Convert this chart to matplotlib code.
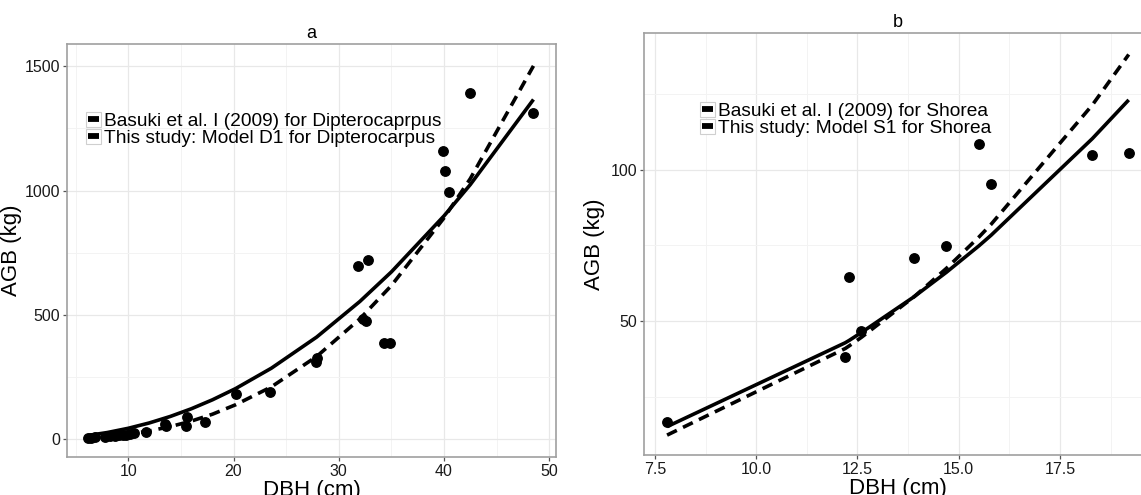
import matplotlib
matplotlib.use("Agg")
import matplotlib.pyplot as plt
from matplotlib.ticker import MultipleLocator, FormatStrFormatter
from matplotlib.legend_handler import HandlerLine2D
from matplotlib.patches import Rectangle
from matplotlib.lines import Line2D

plt.rcParams['font.family'] = ['Liberation Sans', 'DejaVu Sans']

# ---------------- Panel a: Dipterocarpus ----------------
dbh_a = [6.2, 6.5, 6.8, 7.8, 8.3, 8.7, 9.1, 9.5, 9.8, 10.2, 10.5, 11.7, 13.5, 13.6,
         15.5, 15.6, 17.3, 20.2, 23.5, 27.8, 27.9, 31.8, 32.3, 32.6, 32.8, 34.3,
         34.9, 39.9, 40.1, 40.5, 42.5, 48.5]
agb_a = [5, 7, 8, 10, 12, 14, 16, 17, 19, 21, 24, 31, 62, 53,
         52, 90, 68, 182, 191, 312, 326, 695, 485, 477, 722, 386,
         389, 1157, 1080, 996, 1391, 1311]
line_dbh_a = [6.2, 8, 10, 12, 14, 16, 18, 20.2, 23.6, 27.9, 32, 35, 40, 42.5, 48.5]
basuki_a = [15.7, 27.3, 44.4, 65.9, 92.1, 123, 158.9, 204, 286, 411, 554, 673, 898, 1024, 1366]
model_a = [5.6, 11.2, 20.5, 33.6, 51.2, 73.5, 101, 139, 211, 333, 484, 618, 890, 1048, 1501]
labels_a = ["Basuki et al. I (2009) for Dipterocaprpus",
            "This study: Model D1 for Dipterocarpus"]

# ---------------- Panel b: Shorea ----------------
dbh_b = [7.8, 12.2, 12.3, 12.6, 13.9, 14.7, 15.5, 15.8, 18.3, 19.2]
agb_b = [16.7, 38.0, 64.4, 46.8, 70.9, 74.8, 108.3, 95.3, 104.8, 105.5]
line_dbh_b = [7.8, 12.2, 12.3, 12.6, 13.9, 14.7, 15.5, 15.8, 18.3, 19.2]
basuki_b = [15.1, 42.8, 43.6, 46.2, 58.0, 66.1, 74.8, 78.3, 110.2, 123.0]
model_b = [12.3, 40.9, 41.8, 44.6, 58.0, 67.4, 77.7, 81.9, 121.3, 138.0]
labels_b = ["Basuki et al. I (2009) for Shorea",
            "This study: Model S1 for Shorea"]

W, H = 1141, 495
fig = plt.figure(figsize=(W / 100, H / 100), dpi=100)

def px_axes(l, t, r, b):
    return fig.add_axes([l / W, 1 - b / H, (r - l) / W, (b - t) / H])

axa = px_axes(67, 44, 556, 457)
axb = px_axes(644, 33, 1151, 455)

LW = 2.6
DASH = (3.0, 1.9)

def style(ax, xmaj, ymaj):
    ax.set_facecolor('white')
    ax.xaxis.set_major_locator(MultipleLocator(xmaj))
    ax.xaxis.set_minor_locator(MultipleLocator(xmaj / 2))
    ax.yaxis.set_major_locator(MultipleLocator(ymaj))
    ax.yaxis.set_minor_locator(MultipleLocator(ymaj / 2))
    ax.grid(True, which='major', color='#e8e8e8', lw=0.9, zorder=0)
    ax.grid(True, which='minor', color='#f3f3f3', lw=0.7, zorder=0)
    ax.set_axisbelow(True)
    for s in ax.spines.values():
        s.set_color('#a0a0a0')
        s.set_linewidth(1.2)
    ax.tick_params(which='major', length=3, width=0.9, color='#555555',
                   labelsize=11.5, labelcolor='#1a1a1a', pad=2)
    ax.tick_params(which='minor', length=0)

def draw(ax, x, y, lx, l1, l2, labels):
    ax.plot(lx, l1, color='black', lw=LW, solid_capstyle='butt', label=labels[0], zorder=3)
    ax.plot(lx, l2, color='black', lw=LW, ls=(0, DASH), dash_capstyle='butt',
            label=labels[1], zorder=3)
    ax.plot(x, y, 'o', color='black', ms=6.8, zorder=4)

draw(axa, dbh_a, agb_a, line_dbh_a, basuki_a, model_a, labels_a)
draw(axb, dbh_b, agb_b, line_dbh_b, basuki_b, model_b, labels_b)

style(axa, 10, 500)
style(axb, 2.5, 50)
axa.set_xlim(4.18, 50.64)
axa.set_ylim(-71, 1589)
axb.set_xlim(7.23, 19.75)
axb.set_ylim(5.73, 145.1)
axb.xaxis.set_major_formatter(FormatStrFormatter('%.1f'))

for ax, t, ylx in ((axa, 'a', -0.092), (axb, 'b', -0.077)):
    ax.set_title(t, fontsize=13, pad=4)
    ax.set_xlabel('DBH (cm)', fontsize=16, labelpad=1)
    ax.set_ylabel('AGB (kg)', fontsize=16)
    ax.yaxis.set_label_coords(ylx, 0.5)


class BoxKey(HandlerLine2D):
    def create_artists(self, legend, orig_handle, xdescent, ydescent,
                       width, height, fontsize, trans):
        x0, y0 = -xdescent, -ydescent
        rect = Rectangle((x0, y0), width, height, facecolor='white',
                         edgecolor='#cfcfcf', lw=0.8, transform=trans)
        ln = Line2D([x0 + 0.12 * width, x0 + 0.88 * width],
                    [y0 + height / 2] * 2, color='black', lw=4.2,
                    solid_capstyle='butt', transform=trans)
        return [rect, ln]


def legend(ax, loc_px):
    x, y = loc_px
    handles, labels = ax.get_legend_handles_labels()
    lg = ax.legend(handles, labels, loc='upper left',
                   bbox_to_anchor=(x / W, 1 - y / H), bbox_transform=fig.transFigure,
                   fontsize=13.8, frameon=False, handlelength=0.8, handleheight=0.8,
                   handletextpad=0.15, labelspacing=-0.06, borderpad=0.0,
                   borderaxespad=0.0, handler_map={Line2D: BoxKey()})
    return lg

legend(axa, (86, 112))
legend(axb, (700, 102))

fig.savefig('out.png', dpi=100)
